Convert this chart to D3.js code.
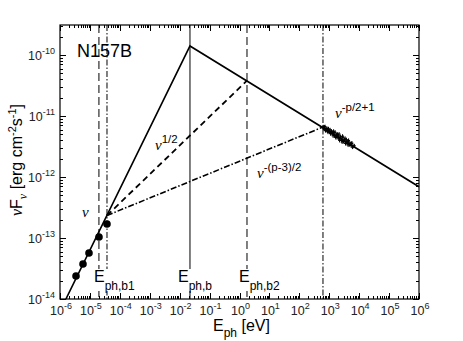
<!DOCTYPE html>
<html>
<head>
<meta charset="utf-8">
<script src="https://cdn.jsdelivr.net/npm/d3@7"></script>
<style>
  body { margin: 0; background: #fff; }
  svg { font-family: 'Liberation Sans', Arial, sans-serif; }
</style>
</head>
<body>
<div class="chart"></div>
<script>
// radio data points
const radioE = [3.43e-6, 5.87e-6, 9.31e-6, 2.01e-5, 3.72e-5];
const radioF = [2.38e-14, 3.75e-14, 5.68e-14, 1.04e-13, 1.70e-13];

// x-ray points (F in 1e-12 units)
const xrayE = [631, 676, 724, 794, 851, 912, 1000, 1072, 1148, 1259, 1349, 1445, 1585, 1698, 1820, 1995,
  2138, 2291, 2512, 2692, 2884, 3162, 3388, 3631, 3981, 4266, 4571, 5012, 5370, 5754, 6310, 6918,
  653, 700, 750, 822, 881, 944, 1035, 1109, 1189, 1303, 1396, 1496, 1641, 1758, 1884, 2065,
  2213, 2371, 2600, 2786, 2985, 3273, 3508, 3758, 4121, 4416, 4732, 5188, 5559, 5957];
const xrayF = [6.65, 6.08, 6.68, 5.93, 6.22, 5.43, 5.66, 5.94, 5.19, 5.41, 4.72, 5.31, 5.41, 4.72, 4.42, 4.82,
  5.06, 4.22, 4.30, 3.75, 4.42, 3.92, 4.31, 3.59, 3.83, 3.34, 3.76, 3.49, 3.27, 3.59, 3.18, 3.24,
  6.29, 6.60, 5.76, 6.14, 5.62, 6.17, 5.48, 5.12, 5.63, 5.11, 5.62, 4.79, 4.45, 4.89, 5.02, 4.35,
  3.98, 4.58, 3.97, 4.67, 3.81, 4.06, 3.54, 4.08, 3.62, 3.98, 3.39, 3.46, 3.54, 3.09];

// model spectrum vertices
const solidE = [1.58e-6, 0.0221, 1e6];
const solidF = [1e-14, 1.41e-10, 6.9e-13];
const halfE = [3.72e-5, 1.78];
const halfF = [2.34e-13, 3.8e-11];
const pE = [3.72e-5, 617];
const pF = [2.34e-13, 6.6e-12];

// vertical markers
const vlineE = [2.0e-5, 3.72e-5, 0.0221, 1.78, 617];
const vlineStyle = ['dash', 'dashdot', 'solid', 'dash', 'dashdot'];

const xTicks = d3.range(-6, 7);
const yTicks = [-14, -13, -12, -11, -10];

const W = 463, H = 341;
const mLeft = 60, mRight = 419, mTop = 25, mBottom = 299;

const x = d3.scaleLog().domain([1e-6, 1e6]).range([mLeft, mRight]);
const y = d3.scaleLog().domain([1e-14, Math.pow(10, -9.508)]).range([mBottom, mTop]);

const svg = d3.select('.chart').append('svg')
  .attr('width', W).attr('height', H);

// ticks on all four sides
const tickG = svg.append('g').attr('stroke', '#000').attr('stroke-width', 1);
xTicks.forEach((p) => {
  for (let m = 1; m < 10; m++) {
    const v = m * Math.pow(10, p);
    if (v > 1e6) break;
    const xx = Math.round(x(v)) + 0.5;
    const len = m === 1 ? 6 : 3;
    tickG.append('line').attr('x1', xx).attr('x2', xx).attr('y1', mBottom).attr('y2', mBottom - len);
    tickG.append('line').attr('x1', xx).attr('x2', xx).attr('y1', mTop).attr('y2', mTop + len);
  }
});
d3.range(-14, -9).forEach((p) => {
  for (let m = 1; m < 10; m++) {
    const v = m * Math.pow(10, p);
    if (v > y.domain()[1]) break;
    const yy = Math.round(y(v)) + 0.5;
    const len = m === 1 ? 6 : 3;
    tickG.append('line').attr('y1', yy).attr('y2', yy).attr('x1', mLeft).attr('x2', mLeft + len);
    tickG.append('line').attr('y1', yy).attr('y2', yy).attr('x1', mRight).attr('x2', mRight - len);
  }
});

// frame
svg.append('rect')
  .attr('x', mLeft).attr('y', mTop)
  .attr('width', mRight - mLeft).attr('height', mBottom - mTop)
  .attr('fill', 'none').attr('stroke', '#000').attr('stroke-width', 1.2);

// tick labels
function powLabel(g, p, xx, yy, anchor) {
  const t = g.append('text').attr('x', xx).attr('y', yy)
    .attr('text-anchor', anchor).attr('font-size', 12.5).attr('fill', '#222');
  t.append('tspan').text('10');
  t.append('tspan').attr('dy', -6).attr('font-size', 9).text(p);
}
const lblG = svg.append('g');
xTicks.forEach((p) => powLabel(lblG, p, x(Math.pow(10, p)) + 1, 315, 'middle'));
yTicks.forEach((p) => powLabel(lblG, p, 55, y(Math.pow(10, p)) + 5, 'end'));

// vertical lines
const dashes = { dash: '8,4', dashdot: '6,2,1.5,2', solid: null };
vlineE.forEach((e, i) => {
  svg.append('line')
    .attr('x1', x(e)).attr('x2', x(e))
    .attr('y1', mTop).attr('y2', mBottom)
    .attr('stroke', '#000')
    .attr('stroke-width', 1)
    .attr('stroke-dasharray', dashes[vlineStyle[i]]);
});

// model lines
const line = d3.line().x((d) => x(d[0])).y((d) => y(d[1]));
svg.append('path')
  .attr('d', line(solidE.map((e, i) => [e, solidF[i]])))
  .attr('fill', 'none').attr('stroke', '#000').attr('stroke-width', 1.7);
svg.append('path')
  .attr('d', line(halfE.map((e, i) => [e, halfF[i]])))
  .attr('fill', 'none').attr('stroke', '#000').attr('stroke-width', 1.8)
  .attr('stroke-dasharray', '6,4');
svg.append('path')
  .attr('d', line(pE.map((e, i) => [e, pF[i]])))
  .attr('fill', 'none').attr('stroke', '#000').attr('stroke-width', 1.6)
  .attr('stroke-dasharray', '6,2,1.5,2');

// data
svg.append('g').selectAll('circle')
  .data(radioE.map((e, i) => [e, radioF[i]]))
  .enter().append('circle')
  .attr('cx', (d) => x(d[0])).attr('cy', (d) => y(d[1]))
  .attr('r', 3.8).attr('fill', '#000');

const xg = svg.append('g').attr('stroke', '#000').attr('stroke-width', 1);
xrayE.forEach((e, i) => {
  const cx = x(e), cy = y(xrayF[i] * 1e-12);
  xg.append('line').attr('x1', cx - 1.5).attr('x2', cx + 1.5).attr('y1', cy).attr('y2', cy);
  xg.append('line').attr('x1', cx).attr('x2', cx).attr('y1', cy - 2).attr('y2', cy + 2);
});

// break labels with white background
function eLabel(xx, yy, sub) {
  const g = svg.append('g');
  const t = g.append('text').attr('x', xx).attr('y', yy).attr('font-size', 16);
  t.append('tspan').text('E');
  t.append('tspan').attr('dy', 8).attr('font-size', 12).text(sub);
  const bb = t.node().getBBox();
  g.insert('rect', 'text')
    .attr('x', bb.x - 1).attr('y', bb.y + 1)
    .attr('width', bb.width + 2).attr('height', bb.height - 3)
    .attr('fill', '#fff');
}
eLabel(94, 282, 'ph,b1');
eLabel(178, 282, 'ph,b');
eLabel(239, 282, 'ph,b2');

// slope labels
function nuLabel(xx, yy, sup) {
  const t = svg.append('text').attr('x', xx).attr('y', yy).attr('font-size', 15);
  t.append('tspan').attr('font-family', 'Liberation Serif, serif').attr('font-style', 'italic').text('ν');
  if (sup) t.append('tspan').attr('dy', -7).attr('font-size', 11.5).text(sup);
}
nuLabel(82, 217, null);
nuLabel(155, 150, '1/2');
nuLabel(257, 178, '-(p-3)/2');
nuLabel(335, 118, '-p/2+1');

// title
svg.append('text').attr('x', 77).attr('y', 57).attr('font-size', 18).text('N157B');

// axis labels
const xl = svg.append('text').attr('x', 213).attr('y', 331).attr('font-size', 16);
xl.append('tspan').text('E');
xl.append('tspan').attr('dy', 6).attr('font-size', 12).text('ph');
xl.append('tspan').attr('dy', -6).text(' [eV]');

const yl = svg.append('text')
  .attr('transform', 'translate(22,160) rotate(-90)')
  .attr('text-anchor', 'middle').attr('font-size', 16);
yl.append('tspan').attr('font-family', 'Liberation Serif, serif').attr('font-style', 'italic').text('ν');
yl.append('tspan').text('F');
yl.append('tspan').attr('dy', 5).attr('font-size', 12)
  .attr('font-family', 'Liberation Serif, serif').attr('font-style', 'italic').text('ν');
yl.append('tspan').attr('dy', -5).text(' [erg cm');
yl.append('tspan').attr('dy', -6).attr('font-size', 11).text('-2');
yl.append('tspan').attr('dy', 6).text('s');
yl.append('tspan').attr('dy', -6).attr('font-size', 11).text('-1');
yl.append('tspan').attr('dy', 6).text(']');
</script>
</body>
</html>
